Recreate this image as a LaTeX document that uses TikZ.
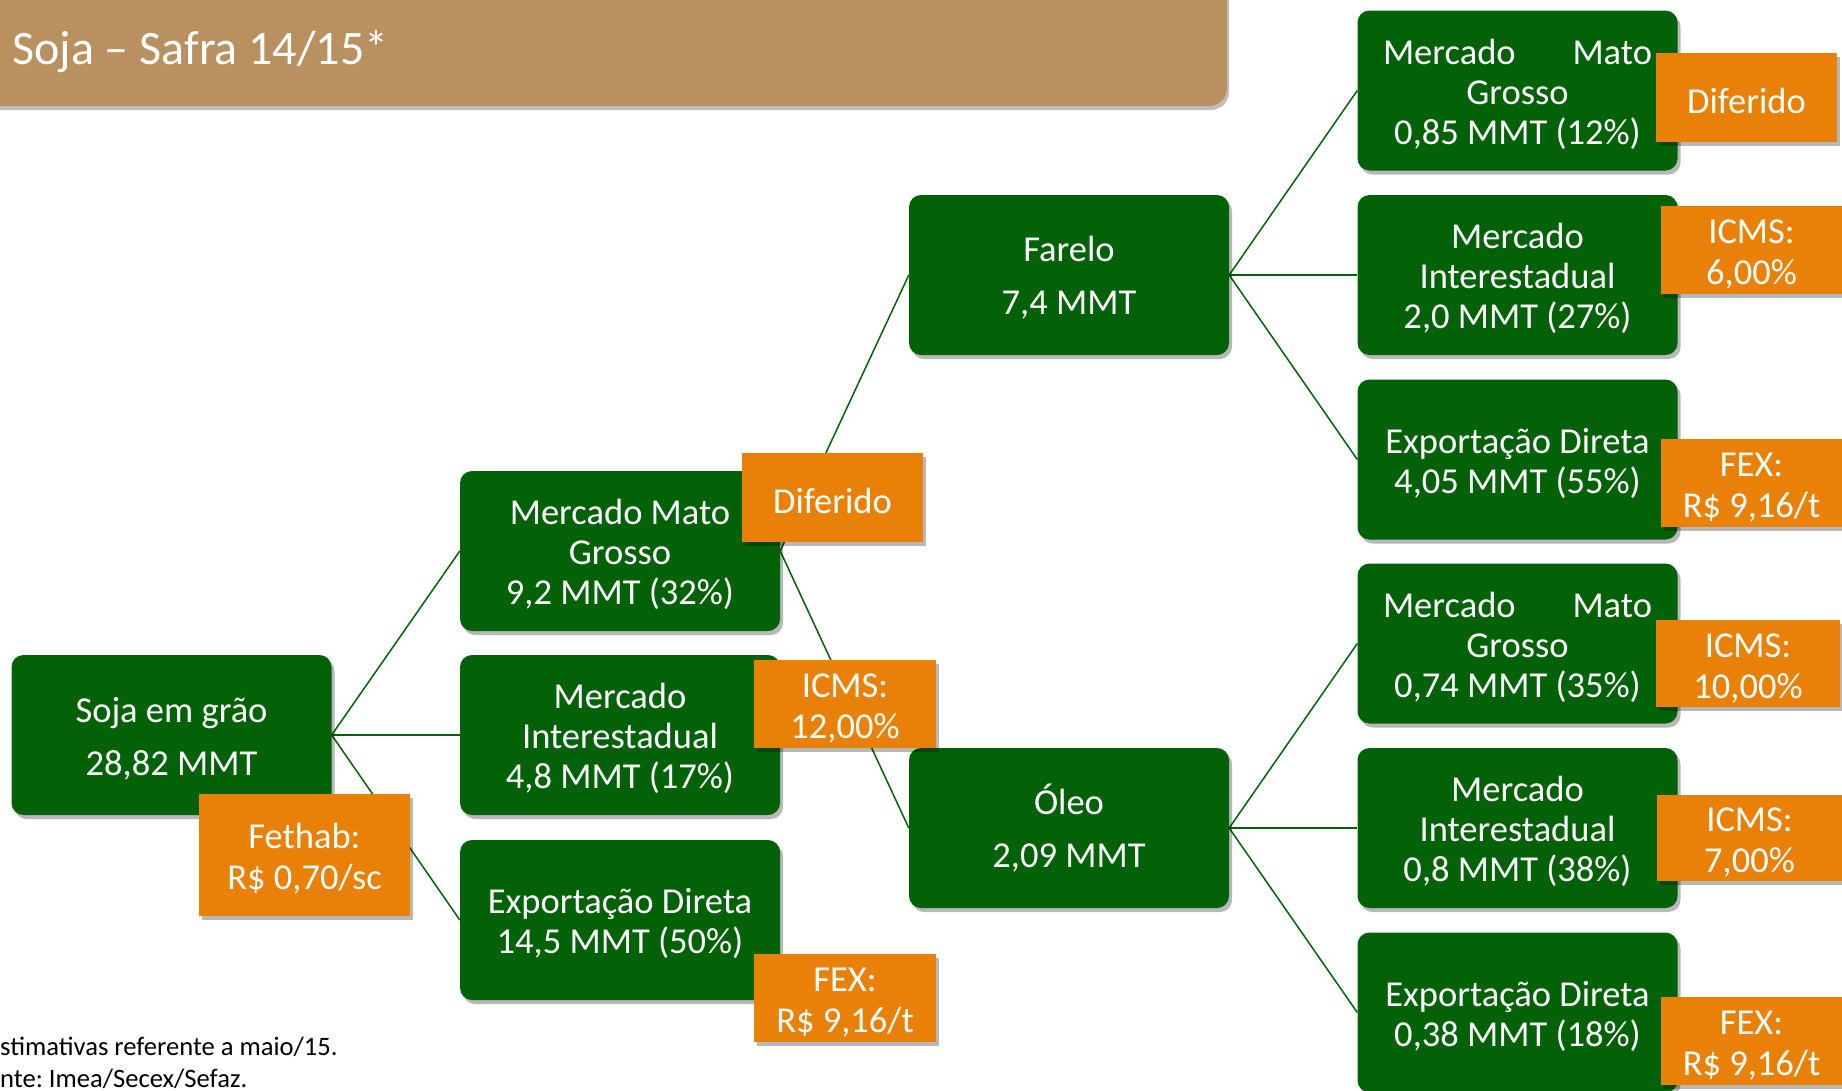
\documentclass[tikz,border=0pt]{standalone}
\usepackage{fontspec}
\setmainfont{Carlito}
\frenchspacing
\usetikzlibrary{shadows}
\definecolor{boxgreen}{RGB}{3,98,8}
\definecolor{taxorange}{RGB}{233,128,8}
\definecolor{titlebrown}{RGB}{185,144,96}
\pgfdeclarelayer{background}
\pgfsetlayers{background,main}
\newcommand\mytopstrut{\rule{0pt}{33pt}}
\tikzset{
  softshadow/.style={drop shadow={shadow xshift=3pt, shadow yshift=-4pt, opacity=0.28, fill=black}},
  gbox/.style={fill=boxgreen, rounded corners=12pt, minimum width=320pt, minimum height=160pt,
    text=white, align=center, inner sep=0pt, font=\fontsize{36.5}{40}\selectfont, softshadow},
  gboxwide/.style={gbox, font=\fontsize{36.5}{53}\selectfont},
  obox/.style={fill=taxorange, minimum width=182pt, minimum height=88pt, text=white,
    align=center, inner sep=0pt, font=\fontsize{36.5}{41}\selectfont, softshadow},
  link/.style={draw=boxgreen, line width=1.5pt},
  foot/.style={anchor=base west, inner sep=0pt, text=black, font=\fontsize{26.6}{32}\selectfont},
}
\begin{document}
\begin{tikzpicture}[x=1pt,y=-1pt]
\useasboundingbox (0,0) rectangle (1842,1090);
% title banner
\path[fill=titlebrown, rounded corners=18pt, drop shadow={shadow xshift=2pt, shadow yshift=-4pt, opacity=0.25, fill=black}] (-40,-40) rectangle (1227,106);
\node[anchor=base west, inner sep=0pt, text=white, font=\fontsize{48}{50}\selectfont] (title) at (12,64) {Soja – Safra 14/15*};

% green boxes
\node[gboxwide] (root) at (171.5,735) {\mytopstrut Soja em grão\\28,82 MMT};
\node[gbox] (mmg) at (620,551) {\mytopstrut Mercado Mato\\Grosso\\9,2 MMT (32\%)};
\node[gbox] (mi) at (620,735) {\mytopstrut Mercado\\Interestadual\\4,8 MMT (17\%)};
\node[gbox] (ed) at (620,920) {\mytopstrut Exportação Direta\\14,5 MMT (50\%)};
\node[gboxwide] (farelo) at (1069,275) {\rule{0pt}{30pt}Farelo\\7,4 MMT};
\node[gboxwide] (oleo) at (1069,828) {Óleo\\2,09 MMT};
\node[gbox] (fmmg) at (1517.5,90.5) {\mytopstrut\makebox[269pt]{Mercado\hfill Mato}\\Grosso\\0,85 MMT (12\%)};
\node[gbox] (fmi) at (1517.5,275) {\mytopstrut Mercado\\Interestadual\\2,0 MMT (27\%)};
\node[gbox] (fed) at (1517.5,459.5) {\mytopstrut Exportação Direta\\4,05 MMT (55\%)};
\node[gbox] (ommg) at (1517.5,643.5) {\mytopstrut\makebox[269pt]{Mercado\hfill Mato}\\Grosso\\0,74 MMT (35\%)};
\node[gbox] (omi) at (1517.5,828) {\mytopstrut Mercado\\Interestadual\\0,8 MMT (38\%)};
\node[gbox] (oed) at (1517.5,1012.5) {\mytopstrut Exportação Direta\\0,38 MMT (18\%)};

% orange tax boxes
\node[obox, minimum width=181pt, minimum height=89pt] (dif2) at (832.5,497.5) {\mytopstrut Diferido};
\node[obox] (icms12) at (845,704) {\mytopstrut ICMS:\\12,00\%};
\node[obox, minimum width=211pt, minimum height=122pt] (fethab) at (304.5,855) {\mytopstrut Fethab:\\R\$ 0,70/sc};
\node[obox] (fex2) at (845,998) {\mytopstrut FEX:\\R\$ 9,16/t};
\node[obox, minimum width=181pt, minimum height=89pt] (dif4) at (1746.5,97.5) {\mytopstrut Diferido};
\node[obox] (icms6) at (1751.5,250) {\mytopstrut ICMS:\\6,00\%};
\node[obox] (fex4a) at (1751.5,483) {\mytopstrut FEX:\\R\$ 9,16/t};
\node[obox, minimum width=184pt, minimum height=87pt] (icms10) at (1748,663.5) {\mytopstrut ICMS:\\10,00\%};
\node[obox, minimum width=185pt, minimum height=86pt] (icms7) at (1749.5,838) {\mytopstrut ICMS:\\7,00\%};
\node[obox] (fex4b) at (1751.5,1041) {\mytopstrut FEX:\\R\$ 9,16/t};

% footnote
\node[foot] (fn1) at (0,1055) {stimativas referente a maio/15.};
\node[foot] (fn2) at (0,1087) {nte: Imea/Secex/Sefaz.};

% connectors
\begin{pgfonlayer}{background}
\draw[link] (root.east) -- (mmg.west);
\draw[link] (root.east) -- (mi.west);
\draw[link] (root.east) -- (ed.west);
\draw[link] (mmg.east) -- (farelo.west);
\draw[link] (mmg.east) -- (oleo.west);
\draw[link] (farelo.east) -- (fmmg.west);
\draw[link] (farelo.east) -- (fmi.west);
\draw[link] (farelo.east) -- (fed.west);
\draw[link] (oleo.east) -- (ommg.west);
\draw[link] (oleo.east) -- (omi.west);
\draw[link] (oleo.east) -- (oed.west);
\end{pgfonlayer}
\end{tikzpicture}
\end{document}
